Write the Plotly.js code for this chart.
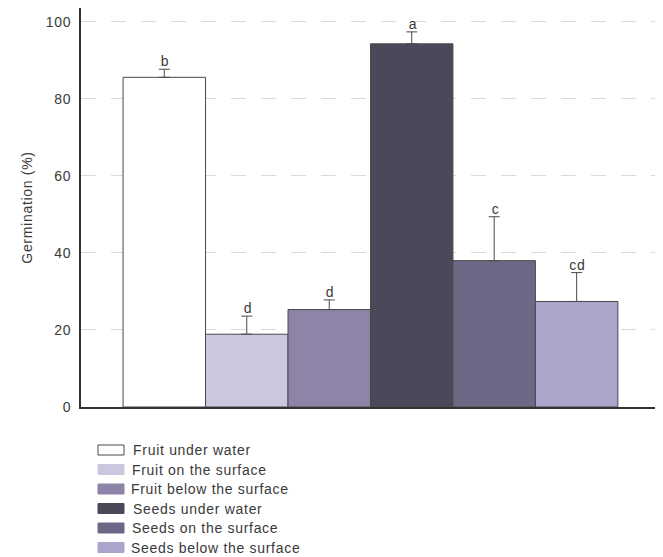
<!DOCTYPE html>
<html>
<head>
<meta charset="utf-8">
<script src="https://cdn.plot.ly/plotly-3.0.1.min.js"></script>
<style>
  html, body { margin: 0; padding: 0; background: #fff; }
  #chart { width: 663px; height: 557px; }
  /* the typeface used here runs a little wide */
  #chart text { letter-spacing: 0.7px; }
</style>
</head>
<body>
<div id="chart"></div>
<script>
// Germination of fruit and seeds by position in the water column
const treatments = [
  "Fruit under water",
  "Fruit on the surface",
  "Fruit below the surface",
  "Seeds under water",
  "Seeds on the surface",
  "Seeds below the surface"
];
const germination = [85.6, 18.9, 25.3, 94.3, 38.0, 27.4];
const errorPlus = [2.1, 4.7, 2.5, 3.1, 11.4, 7.5];
const groupLetters = ["b", "d", "d", "a", "c", "cd"];
const barColors = ["#ffffff", "#cbc7de", "#8d84a8", "#4b4959", "#6d6886", "#aba4cb"];
const yTicks = [0, 20, 40, 60, 80, 100];

const W = 663, H = 557;
const margin = { l: 81, r: 8, t: 8, b: 150 };
const plotH = H - margin.t - margin.b;
const plotW = W - margin.l - margin.r;

// pixel -> paper coordinate helpers for the legend block under the axes
const px = x => (x - margin.l) / plotW;
const py = y => (H - margin.b - y) / plotH;

const font = "Liberation Sans, Arial, sans-serif";
const textColor = "#3a3a3a";

const bars = {
  type: "bar",
  x: treatments,
  y: germination,
  width: 1,
  marker: { color: barColors, line: { color: "#4a4a4a", width: 1 } },
  error_y: {
    type: "data",
    symmetric: false,
    array: errorPlus,
    arrayminus: treatments.map(() => 0),
    color: "#4a4a4a",
    thickness: 1,
    width: 5.5
  },
  hoverinfo: "x+y",
  showlegend: false
};

// significance letters sit just above each error bar
const letterNotes = treatments.map((t, i) => ({
  x: t,
  y: germination[i] + errorPlus[i],
  xref: "x",
  yref: "y",
  text: groupLetters[i],
  showarrow: false,
  yanchor: "bottom",
  xshift: 1,
  yshift: -2,
  font: { family: font, size: 14, color: textColor }
}));

// legend: swatches and labels stacked below the plot
const rowTop = 450, rowStep = 19.5;
const legendShapes = treatments.map((t, i) => {
  const cy = rowTop + i * rowStep;
  return {
    type: "rect",
    xref: "paper", yref: "paper",
    x0: px(98), x1: px(124),
    y0: py(cy + 5), y1: py(cy - 5),
    fillcolor: barColors[i],
    line: { color: i === 0 ? "#4a4a4a" : barColors[i], width: 1 }
  };
});
const legendNotes = treatments.map((t, i) => ({
  xref: "paper", yref: "paper",
  x: px(137), y: py(rowTop + i * rowStep),
  xanchor: "left", yanchor: "middle",
  text: t,
  showarrow: false,
  font: { family: font, size: 14, color: textColor }
}));

const layout = {
  width: W,
  height: H,
  margin: margin,
  paper_bgcolor: "#ffffff",
  plot_bgcolor: "#ffffff",
  bargap: 0,
  showlegend: false,
  font: { family: font, size: 14, color: textColor },
  xaxis: {
    type: "category",
    categoryarray: treatments,
    range: [-1.01, 5.95],
    showticklabels: false,
    ticks: "",
    showgrid: false,
    minor: { showgrid: false, ticks: "" },
    zeroline: false,
    showline: true,
    linecolor: "#333333",
    linewidth: 2,
    fixedrange: true
  },
  yaxis: {
    range: [0, 103.6],
    tickvals: yTicks,
    ticktext: yTicks.map(String),
    ticks: "outside",
    ticklen: 5,
    tickcolor: "rgba(0,0,0,0)",
    tickfont: { family: font, size: 14, color: textColor },
    showgrid: true,
    gridcolor: "#dadada",
    griddash: "longdash",
    gridwidth: 1,
    zeroline: false,
    showline: true,
    linecolor: "#333333",
    linewidth: 2,
    title: {
      text: "Germination (%)",
      font: { family: font, size: 14, color: textColor },
      standoff: 12
    },
    fixedrange: true
  },
  shapes: legendShapes,
  annotations: letterNotes.concat(legendNotes)
};

Plotly.newPlot("chart", [bars], layout, { displayModeBar: false, staticPlot: true });
</script>
</body>
</html>
